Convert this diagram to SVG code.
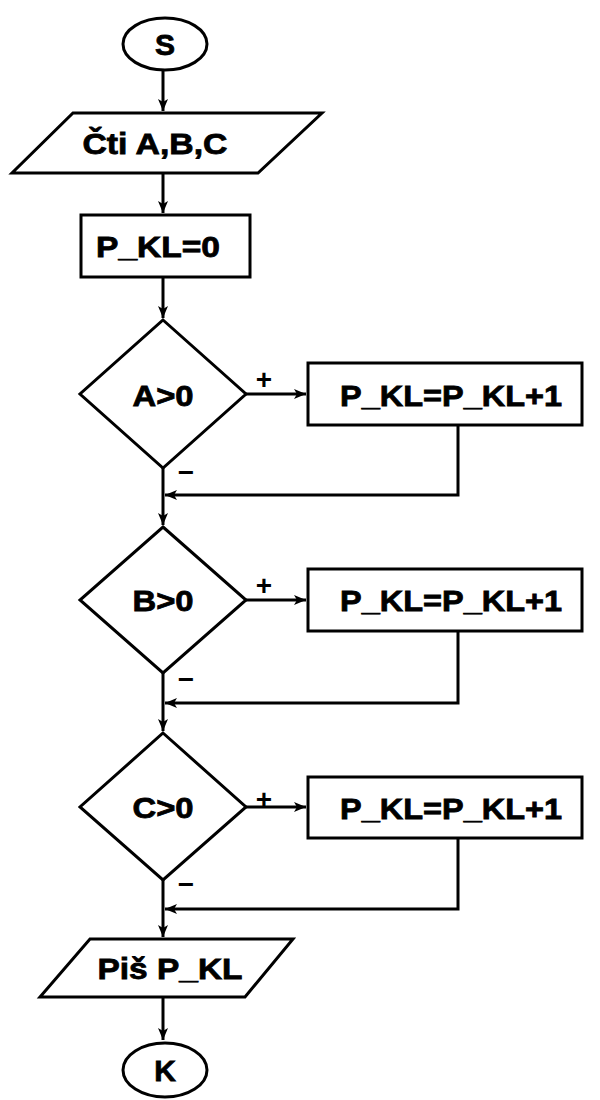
<svg xmlns="http://www.w3.org/2000/svg" width="600" height="1100" viewBox="0 0 600 1100">
<defs>
<marker id="ah" markerWidth="12" markerHeight="12" viewBox="0 0 12 12" refX="12" refY="6" orient="auto" markerUnits="userSpaceOnUse">
<path d="M0,1 L12,6 L0,11 L3,6 Z" fill="#000"/>
</marker>
<style>
.s{fill:#fff;stroke:#000;stroke-width:3}
.c{fill:none;stroke:#000;stroke-width:3}
.t{font-family:"Liberation Sans",Arial,sans-serif;font-weight:bold;font-size:30px;fill:#000;stroke:#000;stroke-width:0.8;text-anchor:middle}
.l{font-family:"Liberation Sans",Arial,sans-serif;font-weight:bold;font-size:28px;fill:#000;text-anchor:middle}
</style>
</defs>
<rect width="600" height="1100" fill="#fff"/>
<g id="connectors">
<path class="c" d="M163,71 V111" marker-end="url(#ah)"/>
<path class="c" d="M163,173 V213" marker-end="url(#ah)"/>
<path class="c" d="M163,277 V318" marker-end="url(#ah)"/>
<path class="c" d="M246,394 H306" marker-end="url(#ah)"/>
<path class="c" d="M163,468 V525" marker-end="url(#ah)"/>
<path class="c" d="M458,425 V495 H165" marker-end="url(#ah)"/>
<path class="c" d="M246,600 H306" marker-end="url(#ah)"/>
<path class="c" d="M163,673 V731" marker-end="url(#ah)"/>
<path class="c" d="M458,631 V703 H165" marker-end="url(#ah)"/>
<path class="c" d="M246,807 H306" marker-end="url(#ah)"/>
<path class="c" d="M163,880 V937" marker-end="url(#ah)"/>
<path class="c" d="M458,838 V909 H165" marker-end="url(#ah)"/>
<path class="c" d="M163,997 V1040" marker-end="url(#ah)"/>
<text class="l" x="264" y="389">+</text>
<text class="l" x="264" y="595">+</text>
<text class="l" x="264" y="809">+</text>
<text class="l" x="186" y="482" font-size="32">−</text>
<text class="l" x="186" y="689" font-size="32">−</text>
<text class="l" x="186" y="894" font-size="32">−</text>
</g>
<g id="start">
<ellipse class="s" cx="165" cy="44" rx="42" ry="26"/>
<text class="t" x="165" y="55">S</text>
</g>
<g id="read">
<path class="s" d="M73,113 H322 L258,173 H12 Z"/>
<text class="t" x="155" y="154" textLength="145" lengthAdjust="spacingAndGlyphs">Čti A,B,C</text>
</g>
<g id="init">
<rect class="s" x="81" y="215" width="169" height="62"/>
<text class="t" x="158" y="257" textLength="124" lengthAdjust="spacingAndGlyphs">P_KL=0</text>
</g>
<g id="decA">
<path class="s" d="M163,320 L246,394 L163,468 L80,394 Z"/>
<text class="t" x="163" y="406" textLength="61" lengthAdjust="spacingAndGlyphs">A&gt;0</text>
</g>
<g id="incA">
<rect class="s" x="308" y="363" width="274" height="62"/>
<text class="t" x="451" y="406" textLength="222" lengthAdjust="spacingAndGlyphs">P_KL=P_KL+1</text>
</g>
<g id="decB">
<path class="s" d="M163,527 L246,600 L163,673 L80,600 Z"/>
<text class="t" x="163" y="611" textLength="61" lengthAdjust="spacingAndGlyphs">B&gt;0</text>
</g>
<g id="incB">
<rect class="s" x="308" y="569" width="274" height="62"/>
<text class="t" x="451" y="611" textLength="222" lengthAdjust="spacingAndGlyphs">P_KL=P_KL+1</text>
</g>
<g id="decC">
<path class="s" d="M163,733 L246,807 L163,880 L80,807 Z"/>
<text class="t" x="163" y="818" textLength="61" lengthAdjust="spacingAndGlyphs">C&gt;0</text>
</g>
<g id="incC">
<rect class="s" x="308" y="777" width="274" height="61"/>
<text class="t" x="451" y="819" textLength="222" lengthAdjust="spacingAndGlyphs">P_KL=P_KL+1</text>
</g>
<g id="write">
<path class="s" d="M90,939 H293 L245,997 H40 Z"/>
<text class="t" x="170" y="979" textLength="145" lengthAdjust="spacingAndGlyphs">Piš P_KL</text>
</g>
<g id="end">
<ellipse class="s" cx="165" cy="1070" rx="42" ry="27"/>
<text class="t" x="165" y="1081">K</text>
</g>
</svg>
